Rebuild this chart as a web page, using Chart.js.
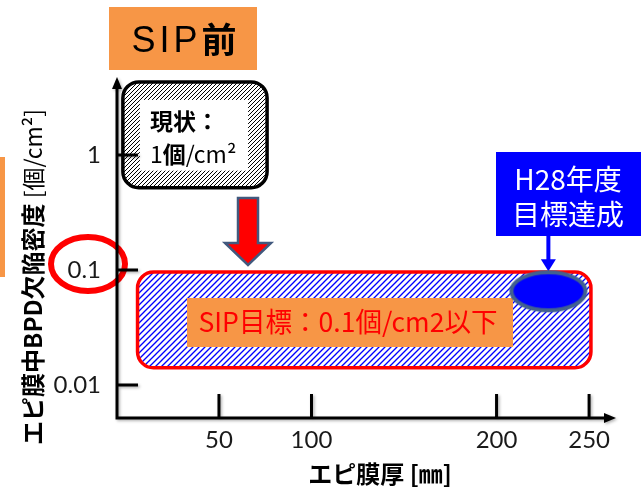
<!DOCTYPE html>
<html>
<head>
<meta charset="utf-8">
<script src="https://cdn.jsdelivr.net/npm/chart.js@4.4.1/dist/chart.umd.min.js"></script>
<style>
  html, body { margin: 0; padding: 0; background: #fff; }
  #wrap { width: 641px; height: 488px; }
</style>
</head>
<body>
<div id="wrap"><canvas id="chart" width="641" height="488"></canvas></div>
<script>
// Axis ticks: epitaxial thickness [mm] and BPD density [per cm2]
const thicknessTicks = [50, 100, 200, 250];
const densityTicks = [0.01, 0.1, 1];

// Present state region (about 1 per cm2)
const currentThickness = [-3, 76];
const currentDensity = [0.52, 4.5];

// SIP target region (0.1 per cm2 or less)
const targetThickness = [6, 251];
const targetDensity = [0.0141, 0.1];

// Result reached in FY H28
const achievedThickness = [228];
const achievedDensity = [0.0653];

const CJK = "'Noto Sans CJK JP', 'Noto Sans', sans-serif";
const LATIN = "Lato, 'Noto Sans', sans-serif";

const canvas = document.getElementById('chart');
const ctx0 = canvas.getContext('2d');

function hatchPattern(color, step, lw) {
  const c = document.createElement('canvas');
  c.width = step; c.height = step;
  const g = c.getContext('2d');
  g.fillStyle = '#fff';
  g.fillRect(0, 0, step, step);
  g.strokeStyle = color;
  g.lineWidth = lw;
  g.beginPath();
  g.moveTo(-1, step + 1); g.lineTo(step + 1, -1);
  g.moveTo(-1, 1); g.lineTo(1, -1);
  g.moveTo(step - 1, step + 1); g.lineTo(step + 1, step - 1);
  g.stroke();
  return ctx0.createPattern(c, 'repeat');
}
const blueHatch = hatchPattern('#0000ff', 6, 1.35);
const blackHatch = hatchPattern('#000000', 4, 1.0);

// Marker drawn as an ellipse for the achieved point
const ellipseMarker = (() => {
  const c = document.createElement('canvas');
  c.width = 82; c.height = 46;
  const g = c.getContext('2d');
  g.beginPath();
  g.ellipse(41, 23, 37, 19, 0, 0, Math.PI * 2);
  g.fillStyle = '#0000ff';
  g.fill();
  g.lineWidth = 4;
  g.strokeStyle = '#42618f';
  g.stroke();
  return c;
})();

function roundRect(ctx, x0, y0, x1, y1, r) {
  ctx.beginPath();
  ctx.moveTo(x0 + r, y0);
  ctx.lineTo(x1 - r, y0);
  ctx.arcTo(x1, y0, x1, y0 + r, r);
  ctx.lineTo(x1, y1 - r);
  ctx.arcTo(x1, y1, x1 - r, y1, r);
  ctx.lineTo(x0 + r, y1);
  ctx.arcTo(x0, y1, x0, y1 - r, r);
  ctx.lineTo(x0, y0 + r);
  ctx.arcTo(x0, y0, x0 + r, y0, r);
  ctx.closePath();
}

// Draws a run of [text, font] pieces one after another, centred on cx
function drawRuns(ctx, runs, cx, cy, color) {
  let total = 0;
  const widths = runs.map(([t, f]) => { ctx.font = f; const w = ctx.measureText(t).width; total += w; return w; });
  let x = cx - total / 2;
  ctx.fillStyle = color;
  ctx.textBaseline = 'middle';
  ctx.textAlign = 'left';
  runs.forEach(([t, f], i) => { ctx.font = f; ctx.fillText(t, x, cy); x += widths[i]; });
}

const decor = {
  id: 'decor',
  beforeDatasetsDraw(chart) {
    const ctx = chart.ctx;
    const xs = chart.scales.x, ys = chart.scales.y;
    const area = chart.chartArea;
    ctx.save();

    // "SIP前" heading
    ctx.fillStyle = '#f79646';
    ctx.fillRect(109, 7, 148, 63);
    {
      ctx.textBaseline = 'middle';
      ctx.textAlign = 'left';
      ctx.font = "36px 'Liberation Sans', Arial, sans-serif";
      const letters = ['S', 'I', 'P'];
      const sp = 4;
      let w = 0;
      letters.forEach(l => { w += ctx.measureText(l).width + sp; });
      ctx.font = "bold 35px " + CJK;
      const wz = ctx.measureText('前').width;
      let x = 184 - (w + wz) / 2;
      ctx.fillStyle = '#000';
      ctx.font = "36px 'Liberation Sans', Arial, sans-serif";
      letters.forEach(l => { ctx.fillText(l, x, 42); x += ctx.measureText(l).width + sp; });
      ctx.font = "bold 35px " + CJK;
      ctx.fillText('前', x, 40);
    }

    // orange tab at the left edge
    ctx.fillStyle = '#f79646';
    ctx.fillRect(0, 157, 5, 120);

    // y axis title
    ctx.save();
    ctx.translate(33, 277);
    ctx.rotate(-Math.PI / 2);
    drawRuns(ctx, [
      ['エピ膜中BPD欠陥密度', 'bold 24px ' + CJK],
      [' [個/cm²]', '23px ' + CJK]
    ], 0, 0, '#000');
    ctx.restore();

    // x axis title
    drawRuns(ctx, [['エピ膜厚 [㎜]', 'bold 24px ' + CJK]], 380, 474, '#000');

    // present state region
    {
      const x0 = xs.getPixelForValue(currentThickness[0]);
      const x1 = xs.getPixelForValue(currentThickness[1]);
      const y0 = ys.getPixelForValue(currentDensity[1]);
      const y1 = ys.getPixelForValue(currentDensity[0]);
      roundRect(ctx, x0 + 2, y0 + 2, x1, y1, 16);
      ctx.fillStyle = blackHatch;
      ctx.fill();
      ctx.lineWidth = 3.5;
      ctx.strokeStyle = '#000';
      ctx.stroke();
      ctx.fillStyle = '#fff';
      ctx.fillRect(x0 + 19, y0 + 20, (x1 - x0) - 38, (y1 - y0) - 37);
      ctx.fillStyle = '#000';
      ctx.textBaseline = 'middle';
      ctx.textAlign = 'left';
      ctx.font = 'bold 23px ' + CJK;
      ctx.fillText('現状：', x0 + 29, y0 + 41);
      let tx = x0 + 29;
      const ty = y0 + 74;
      ctx.font = '23px ' + CJK;
      ctx.fillText('1', tx, ty); tx += ctx.measureText('1').width;
      ctx.font = 'bold 23px ' + CJK;
      ctx.fillText('個', tx, ty); tx += ctx.measureText('個').width;
      ctx.font = '23px ' + CJK;
      ctx.fillText('/cm²', tx, ty);
    }

    // SIP target region
    {
      const x0 = xs.getPixelForValue(targetThickness[0]);
      const x1 = xs.getPixelForValue(targetThickness[1]);
      const y0 = ys.getPixelForValue(targetDensity[1]);
      const y1 = ys.getPixelForValue(targetDensity[0]);
      roundRect(ctx, x0, y0 + 2, x1, y1, 16);
      ctx.fillStyle = blueHatch;
      ctx.fill();
      ctx.lineWidth = 3.5;
      ctx.strokeStyle = '#ff0000';
      ctx.stroke();

      ctx.fillStyle = '#f79646';
      ctx.fillRect(187, 298, 326, 49);
      ctx.save();
      ctx.font = '27px ' + CJK;
      const label = 'SIP目標：0.1個/cm2以下';
      const w = ctx.measureText(label).width;
      ctx.translate(348, 322);
      ctx.scale(299 / w, 1);
      ctx.fillStyle = '#ff0000';
      ctx.textAlign = 'center';
      ctx.textBaseline = 'middle';
      ctx.fillText(label, 0, 0);
      ctx.restore();
    }

    // red arrow from present state down to target
    {
      const cx = 248;
      ctx.beginPath();
      ctx.moveTo(cx - 10, 198);
      ctx.lineTo(cx + 10, 198);
      ctx.lineTo(cx + 10, 243);
      ctx.lineTo(cx + 23, 243);
      ctx.lineTo(cx, 265);
      ctx.lineTo(cx - 23, 243);
      ctx.lineTo(cx - 10, 243);
      ctx.closePath();
      ctx.fillStyle = '#ff0000';
      ctx.fill();
      ctx.lineWidth = 2.5;
      ctx.lineJoin = 'miter';
      ctx.strokeStyle = '#41597e';
      ctx.stroke();
    }

    // FY H28 callout and its pointer
    {
      ctx.fillStyle = '#0000ff';
      ctx.fillRect(496, 152, 145, 84);
      ctx.fillStyle = '#fff';
      ctx.font = '28px ' + CJK;
      ctx.textAlign = 'center';
      ctx.textBaseline = 'middle';
      ctx.fillText('H28年度', 568, 179);
      ctx.fillText('目標達成', 568, 214);

      const px = xs.getPixelForValue(achievedThickness[0]);
      const tip = ys.getPixelForValue(achievedDensity[0]) - 21;
      ctx.strokeStyle = '#0000ff';
      ctx.lineWidth = 4;
      ctx.beginPath();
      ctx.moveTo(px, 236);
      ctx.lineTo(px, tip - 8);
      ctx.stroke();
      ctx.fillStyle = '#0000ff';
      ctx.beginPath();
      ctx.moveTo(px - 7.5, tip - 11);
      ctx.lineTo(px + 7.5, tip - 11);
      ctx.lineTo(px, tip + 1);
      ctx.closePath();
      ctx.fill();
    }

    // red ring around the 0.1 tick
    {
      const cy = ys.getPixelForValue(0.1) - 6;
      ctx.beginPath();
      ctx.ellipse(88, cy, 37, 27, 0, 0, Math.PI * 2);
      ctx.lineWidth = 6;
      ctx.strokeStyle = '#ff0000';
      ctx.stroke();
    }

    // axes with arrow heads and inner tick marks
    ctx.save();
    ctx.shadowColor = 'rgba(0,0,0,0.3)';
    ctx.shadowBlur = 3;
    ctx.shadowOffsetX = 1.5;
    ctx.shadowOffsetY = 1.5;
    ctx.strokeStyle = '#000';
    ctx.fillStyle = '#000';
    ctx.lineWidth = 3;
    ctx.lineCap = 'butt';
    const ox = area.left, oy = area.bottom;
    ctx.beginPath();
    ctx.moveTo(ox, oy + 1.5);
    ctx.lineTo(ox, area.top + 8);
    ctx.moveTo(ox - 1.5, oy);
    ctx.lineTo(area.right - 9, oy);
    densityTicks.forEach(v => {
      const py = ys.getPixelForValue(v);
      ctx.moveTo(ox, py);
      ctx.lineTo(ox + 21, py);
    });
    thicknessTicks.forEach(v => {
      const px = xs.getPixelForValue(v);
      ctx.moveTo(px, oy);
      ctx.lineTo(px, oy - 24);
    });
    ctx.stroke();
    ctx.beginPath();
    ctx.moveTo(ox, area.top - 3);
    ctx.lineTo(ox + 5, area.top + 9);
    ctx.lineTo(ox - 5, area.top + 9);
    ctx.closePath();
    ctx.fill();
    ctx.beginPath();
    ctx.moveTo(area.right + 1, oy);
    ctx.lineTo(area.right - 11, oy - 5);
    ctx.lineTo(area.right - 11, oy + 5);
    ctx.closePath();
    ctx.fill();
    ctx.restore();

    ctx.restore();
  }
};

const chart = new Chart(canvas, {
  type: 'scatter',
  data: {
    datasets: [{
      label: 'H28',
      data: achievedThickness.map((t, i) => ({ x: t, y: achievedDensity[i] })),
      pointStyle: ellipseMarker,
      pointRadius: 20,
      pointHoverRadius: 20
    }]
  },
  options: {
    responsive: false,
    animation: false,
    devicePixelRatio: 1,
    events: [],
    layout: { padding: { left: 0, top: 80, right: 26, bottom: 0 } },
    plugins: { legend: { display: false }, tooltip: { enabled: false } },
    scales: {
      x: {
        type: 'linear',
        min: -5.1,
        max: 264,
        afterFit: s => { s.height = 70; },
        afterBuildTicks: s => { s.ticks = thicknessTicks.map(v => ({ value: v })); },
        grid: { display: false, drawTicks: false },
        border: { display: false },
        ticks: {
          padding: 8,
          color: '#1a1a1a',
          font: { family: LATIN, size: 24 },
          callback: v => String(v)
        }
      },
      y: {
        type: 'logarithmic',
        min: 0.00516,
        max: 4.49,
        afterFit: s => { s.width = 117; },
        afterBuildTicks: s => { s.ticks = densityTicks.map(v => ({ value: v })); },
        grid: { display: false, drawTicks: false },
        border: { display: false },
        ticks: {
          padding: 16,
          color: '#1a1a1a',
          font: { family: LATIN, size: 24 },
          callback: v => String(v)
        }
      }
    }
  },
  plugins: [decor]
});
</script>
</body>
</html>
